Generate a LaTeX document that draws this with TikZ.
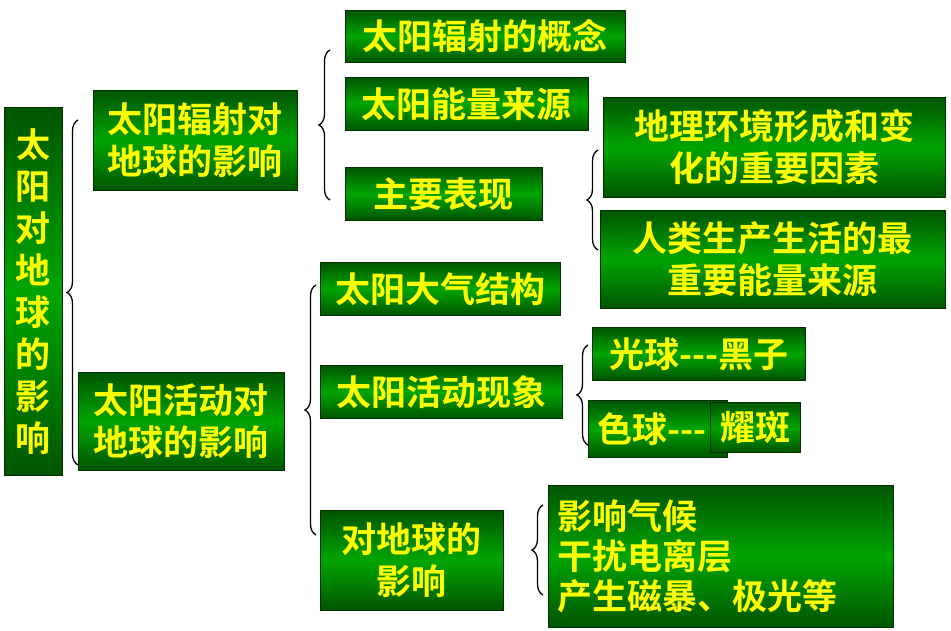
\documentclass[tikz,border=0pt]{standalone}
\usepackage{fontspec}
\setmainfont{Noto Sans CJK SC}[BoldFont={* Bold}]
\usetikzlibrary{decorations.pathreplacing}
\definecolor{gdark}{RGB}{0,70,0}
\definecolor{gmid}{RGB}{0,165,0}
\definecolor{ytxt}{RGB}{255,255,0}
\pgfdeclareverticalshading{gshade}{100bp}{color(0bp)=(gdark); color(25bp)=(gdark!85!gmid); color(50bp)=(gmid); color(75bp)=(gdark!85!gmid); color(100bp)=(gdark)}
\begin{document}
\begin{tikzpicture}[x=1pt,y=-1pt,
  gbox/.style={anchor=north west,inner sep=0pt,draw=gdark!70!black,line width=0.6pt,
    shading=gshade,
    text=ytxt,font=\bfseries\fontsize{35}{42}\selectfont,align=center},
  br/.style={draw=black,line width=1.3pt,decorate,decoration={brace,amplitude=11pt}}]
\useasboundingbox[fill=white] (0,0) rectangle (951,631);
\newcommand\bx[6]{\node[gbox,minimum width=#4-#2,minimum height=#5-#3] (#1) at (#2,#3) {#6};}
\bx{root}{4}{107}{62}{475}{\fontsize{34}{45}\selectfont 太\\阳\\对\\地\\球\\的\\影\\响}
\bx{a1}{93}{90}{297}{190}{太阳辐射对\\地球的影响}
\bx{a2}{78}{372}{284}{470}{太阳活动对\\地球的影响}
\bx{b1}{345}{10}{625}{62}{太阳辐射的概念}
\bx{b2}{345}{77}{588}{130}{太阳能量来源}
\bx{b3}{345}{167}{542}{220}{主要表现}
\bx{c1}{603}{97}{945}{197}{地理环境形成和变\\化的重要因素}
\bx{c2}{600}{210}{945}{308}{人类生产生活的最\\重要能量来源}
\bx{d1}{320}{262}{560}{315}{太阳大气结构}
\bx{d2}{320}{365}{562}{418}{太阳活动现象}
\bx{d3}{320}{510}{503}{610}{对地球的\\影响}
\bx{e1}{592}{327}{805}{380}{光球{-}{-}{-}黑子}
\bx{e2}{588}{400}{727}{457}{色球{-}{-}{-}\hspace{12pt}}
\bx{e3}{710}{402}{800}{452}{耀斑}
\node[gbox,anchor=north west,minimum width=345,minimum height=142,align=left,text width=338,
  font=\bfseries\fontsize{35}{40}\selectfont] (f) at (548,485) {\hspace*{6pt}影响气候\\\hspace*{6pt}干扰电离层\\\hspace*{6pt}产生磁暴、极光等};
\coordinate (r0) at (78,465); \coordinate (r1) at (78,120);
\draw[br] (r0) -- (r1);
\coordinate (s0) at (330,200); \coordinate (s1) at (330,50);
\draw[br] (s0) -- (s1);
\coordinate (t0) at (598,250); \coordinate (t1) at (598,150);
\draw[br] (t0) -- (t1);
\coordinate (u0) at (316,535); \coordinate (u1) at (316,285);
\draw[br] (u0) -- (u1);
\coordinate (v0) at (588,445); \coordinate (v1) at (588,345);
\draw[br] (v0) -- (v1);
\coordinate (w0) at (543,595); \coordinate (w1) at (543,505);
\draw[br] (w0) -- (w1);
\end{tikzpicture}
\end{document}
